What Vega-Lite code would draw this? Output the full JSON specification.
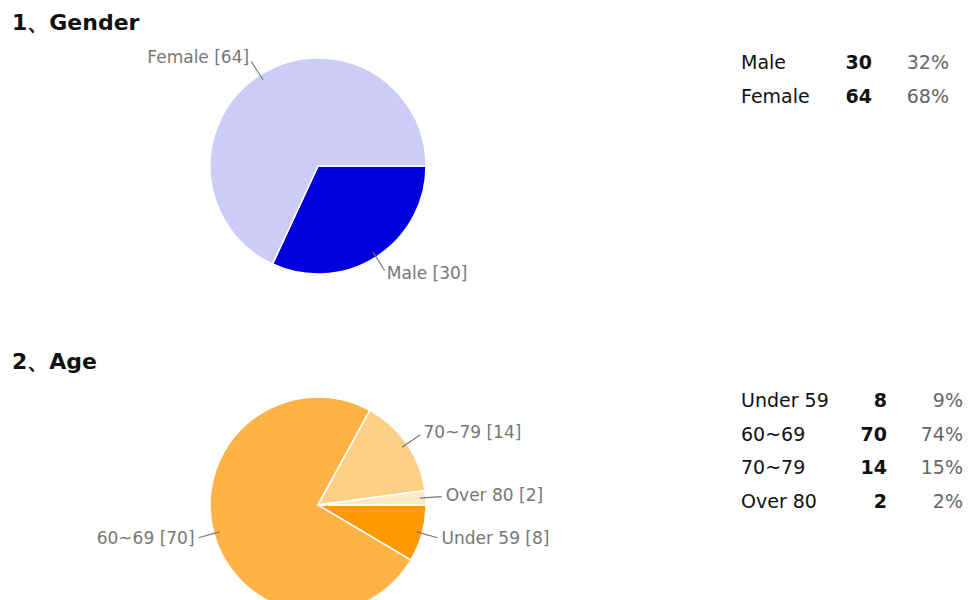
{
  "$schema": "https://vega.github.io/schema/vega-lite/v6.json",
  "padding": {"left": 12, "top": 12, "right": 0, "bottom": 0},
  "background": "white",
  "spacing": 65,
  "resolve": {"scale": {"color": "independent", "theta": "independent"}},
  "config": {
    "view": {"stroke": null},
    "font": "DejaVu Sans",
    "title": {"font": "DejaVu Sans", "fontSize": 22, "fontWeight": "bold", "color": "#111111", "anchor": "start", "frame": "group"}
  },
  "datasets": {
    "gender": [
      {"category": "Male", "count": 30, "pct": 0.32, "label": "Male [30]"},
      {"category": "Female", "count": 64, "pct": 0.68, "label": "Female [64]"}
    ],
    "age": [
      {"category": "Under 59", "count": 8, "pct": 0.09, "label": "Under 59 [8]"},
      {"category": "60~69", "count": 70, "pct": 0.74, "label": "60~69 [70]"},
      {"category": "70~79", "count": 14, "pct": 0.15, "label": "70~79 [14]"},
      {"category": "Over 80", "count": 2, "pct": 0.02, "label": "Over 80 [2]"}
    ]
  },
  "vconcat": [
    {
      "title": {"text": "1、Gender", "offset": 11},
      "spacing": 0,
      "resolve": {"scale": {"color": "independent", "theta": "independent"}},
      "hconcat": [
        {
          "width": 612,
          "height": 240,
          "data": {"name": "gender"},
          "transform": [
            {"stack": "count", "groupby": [], "as": ["cum_start", "cum_end"]}
          ],
          "layer": [
            {
              "mark": {"type": "arc", "radius": 108, "stroke": "white", "strokeWidth": 1.5},
              "encoding": {
                "theta": {"field": "count", "type": "quantitative", "stack": true, "scale": {"range": [1.5707963, 7.8539816]}},
                "order": {"field": "cum_start", "type": "quantitative"},
                "color": {"field": "category", "type": "nominal", "scale": {"domain": ["Male", "Female"], "range": ["#0000dc", "#ccccf6"]}, "legend": null}
              }
            },
            {
              "transform": [
                {"fold": ["cum_start", "cum_end"], "as": ["edge", "pos"]},
                {"aggregate": [{"op": "mean", "field": "pos", "as": "mid"}], "groupby": ["category", "label"]}
              ],
              "layer": [
                {
                  "mark": {"type": "arc", "radius": 124, "radius2": 102, "stroke": "#777777", "strokeWidth": 1.2, "fillOpacity": 0},
                  "encoding": {"theta": {"field": "mid", "type": "quantitative"}, "theta2": {"field": "mid"}}
                },
                {
                  "transform": [{"filter": {"field": "category", "oneOf": ["Male"]}}],
                  "mark": {"type": "text", "radius": 128, "align": "left", "baseline": "middle", "fontSize": 17, "color": "#777777"},
                  "encoding": {"theta": {"field": "mid", "type": "quantitative"}, "text": {"field": "label"}}
                },
                {
                  "transform": [{"filter": {"field": "category", "oneOf": ["Female"]}}],
                  "mark": {"type": "text", "radius": 128, "align": "right", "baseline": "middle", "fontSize": 17, "color": "#777777"},
                  "encoding": {"theta": {"field": "mid", "type": "quantitative"}, "text": {"field": "label"}}
                }
              ]
            }
          ]
        },
        {
          "width": 330,
          "height": 68,
          "data": {"name": "gender"},
          "encoding": {
            "y": {"field": "category", "type": "nominal", "sort": null, "axis": null, "scale": {"paddingInner": 0, "paddingOuter": 0}}
          },
          "layer": [
            {
              "mark": {"type": "text", "align": "left", "baseline": "middle", "fontSize": 19, "color": "#111111"},
              "encoding": {"x": {"value": 117}, "text": {"field": "category"}}
            },
            {
              "mark": {"type": "text", "align": "right", "baseline": "middle", "fontSize": 19, "fontWeight": "bold", "color": "#111111"},
              "encoding": {"x": {"value": 248}, "text": {"field": "count", "type": "quantitative"}}
            },
            {
              "mark": {"type": "text", "align": "right", "baseline": "middle", "fontSize": 19, "color": "#666666"},
              "encoding": {"x": {"value": 325}, "text": {"field": "pct", "type": "quantitative", "format": ".0%"}}
            }
          ]
        }
      ]
    },
    {
      "title": {"text": "2、Age", "offset": 10},
      "spacing": 0,
      "resolve": {"scale": {"color": "independent", "theta": "independent"}},
      "hconcat": [
        {
          "width": 612,
          "height": 242,
          "data": {"name": "age"},
          "transform": [
            {"stack": "count", "groupby": [], "as": ["cum_start", "cum_end"]}
          ],
          "layer": [
            {
              "mark": {"type": "arc", "radius": 108, "stroke": "white", "strokeWidth": 1.5},
              "encoding": {
                "theta": {"field": "count", "type": "quantitative", "stack": true, "scale": {"range": [1.5707963, 7.8539816]}},
                "order": {"field": "cum_start", "type": "quantitative"},
                "color": {"field": "category", "type": "nominal", "scale": {"domain": ["Under 59", "60~69", "70~79", "Over 80"], "range": ["#ff9900", "#ffb347", "#ffce87", "#ffe8c6"]}, "legend": null}
              }
            },
            {
              "transform": [
                {"fold": ["cum_start", "cum_end"], "as": ["edge", "pos"]},
                {"aggregate": [{"op": "mean", "field": "pos", "as": "mid"}], "groupby": ["category", "label"]}
              ],
              "layer": [
                {
                  "mark": {"type": "arc", "radius": 124, "radius2": 102, "stroke": "#777777", "strokeWidth": 1.2, "fillOpacity": 0},
                  "encoding": {"theta": {"field": "mid", "type": "quantitative"}, "theta2": {"field": "mid"}}
                },
                {
                  "transform": [{"filter": {"field": "category", "oneOf": ["Under 59", "70~79", "Over 80"]}}],
                  "mark": {"type": "text", "radius": 128, "align": "left", "baseline": "middle", "fontSize": 17, "color": "#777777"},
                  "encoding": {"theta": {"field": "mid", "type": "quantitative"}, "text": {"field": "label"}}
                },
                {
                  "transform": [{"filter": {"field": "category", "oneOf": ["60~69"]}}],
                  "mark": {"type": "text", "radius": 128, "align": "right", "baseline": "middle", "fontSize": 17, "color": "#777777"},
                  "encoding": {"theta": {"field": "mid", "type": "quantitative"}, "text": {"field": "label"}}
                }
              ]
            }
          ]
        },
        {
          "width": 345,
          "height": 135,
          "data": {"name": "age"},
          "encoding": {
            "y": {"field": "category", "type": "nominal", "sort": null, "axis": null, "scale": {"paddingInner": 0, "paddingOuter": 0}}
          },
          "layer": [
            {
              "mark": {"type": "text", "align": "left", "baseline": "middle", "fontSize": 19, "color": "#111111"},
              "encoding": {"x": {"value": 117}, "text": {"field": "category"}}
            },
            {
              "mark": {"type": "text", "align": "right", "baseline": "middle", "fontSize": 19, "fontWeight": "bold", "color": "#111111"},
              "encoding": {"x": {"value": 263}, "text": {"field": "count", "type": "quantitative"}}
            },
            {
              "mark": {"type": "text", "align": "right", "baseline": "middle", "fontSize": 19, "color": "#666666"},
              "encoding": {"x": {"value": 339}, "text": {"field": "pct", "type": "quantitative", "format": ".0%"}}
            }
          ]
        }
      ]
    }
  ]
}
